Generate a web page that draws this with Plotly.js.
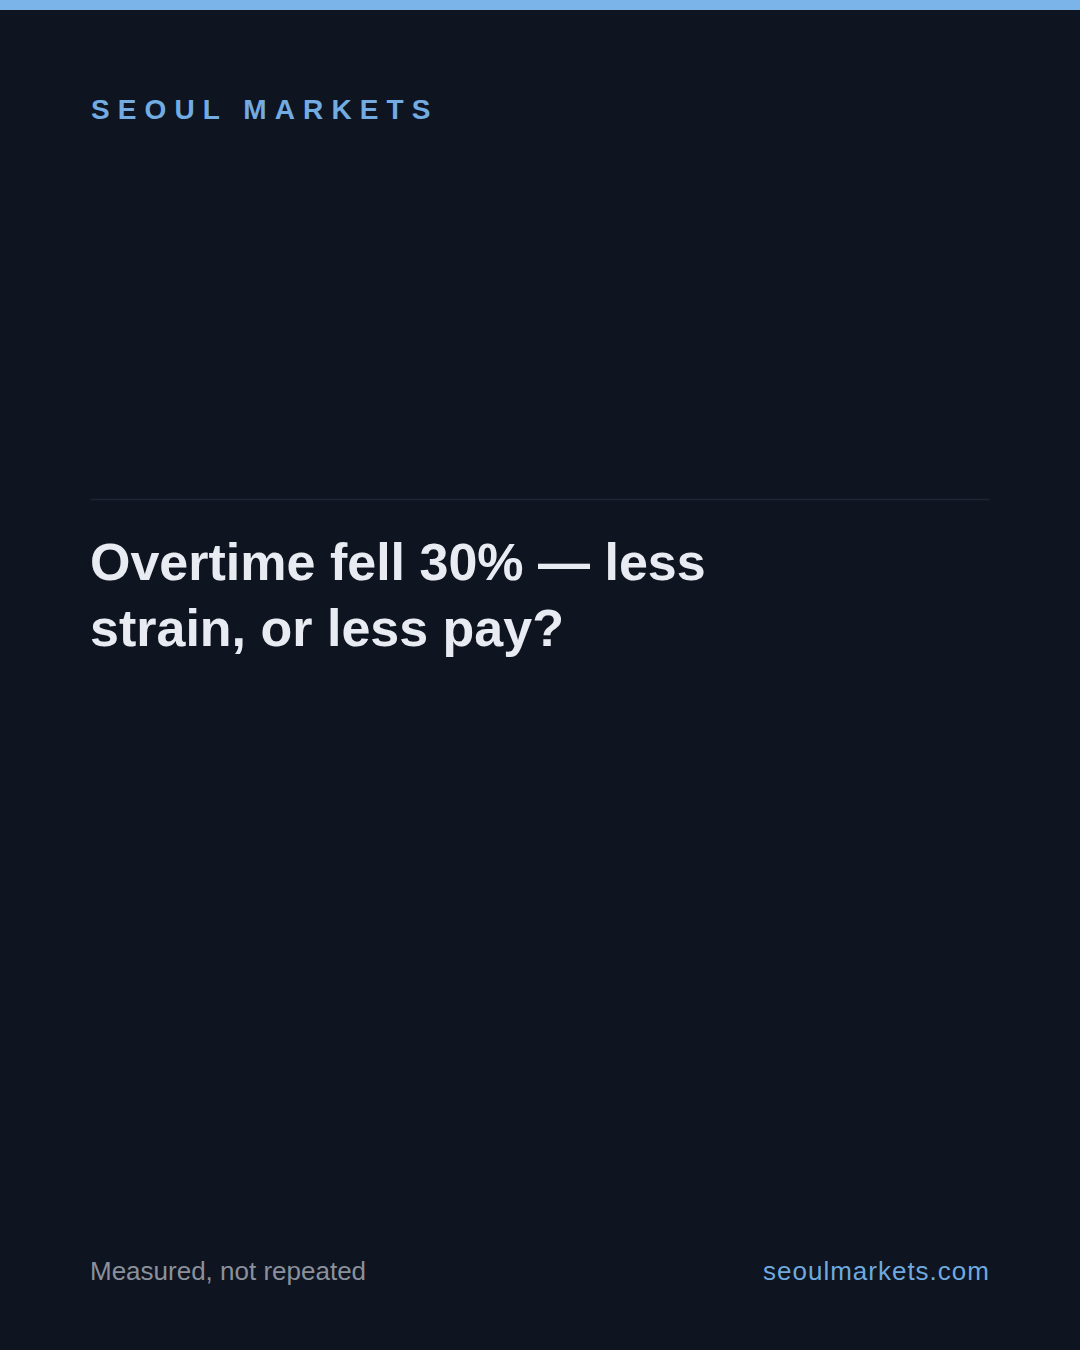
<!DOCTYPE html>
<html>
<head>
<meta charset="utf-8">
<script src="https://cdn.plot.ly/plotly-3.0.1.min.js"></script>
<style>
  html, body { margin: 0; padding: 0; background: #0e1420; }
  #chart { width: 1080px; height: 1350px; }
  .annotation[data-index="0"] .annotation-text { letter-spacing: 8.1px; }
  .annotation[data-index="4"] .annotation-text { letter-spacing: 1px; }
</style>
</head>
<body>
<div id="chart"></div>
<script>
// Text content of the card
const brandName = "SEOUL MARKETS";
const headlineLines = ["Overtime fell 30% \u2014 less", "strain, or less pay?"];
const footerLeft = "Measured, not repeated";
const footerRight = "seoulmarkets.com";

const W = 1080, H = 1350;
const py = (px) => 1 - px / H;
const px = (x) => x / W;

const FONT = "Liberation Sans, Arial, Helvetica, sans-serif";

const annotations = [
  {
    text: "<b>" + brandName + "</b>",
    x: px(90), y: py(109.5), xanchor: "left", yanchor: "middle", align: "left",
    font: { family: FONT, size: 28, color: "#72acE2" }
  },
  {
    text: "<b>" + headlineLines[0] + "</b>",
    x: px(89), y: py(562), xanchor: "left", yanchor: "middle", align: "left",
    font: { family: FONT, size: 52, color: "#e8ebf1" }
  },
  {
    text: "<b>" + headlineLines[1] + "</b>",
    x: px(89), y: py(628), xanchor: "left", yanchor: "middle", align: "left",
    font: { family: FONT, size: 52, color: "#e8ebf1" }
  },
  {
    text: footerLeft,
    x: px(89), y: py(1271), xanchor: "left", yanchor: "middle", align: "left",
    font: { family: FONT, size: 26, color: "#8a919c" }
  },
  {
    text: footerRight,
    x: px(991), y: py(1271), xanchor: "right", yanchor: "middle", align: "right",
    font: { family: FONT, size: 26, color: "#6fa9df" }
  }
];

annotations.forEach(a => { a.xref = "paper"; a.yref = "paper"; a.showarrow = false; a.borderpad = 0; });

const shapes = [
  { type: "rect", xref: "paper", yref: "paper", x0: 0, x1: 1, y0: py(10), y1: 1,
    fillcolor: "#7ab4e8", line: { width: 0 }, layer: "above" },
  { type: "line", xref: "paper", yref: "paper", x0: px(90), x1: px(990), y0: py(499.5), y1: py(499.5),
    line: { color: "#1f2633", width: 1.5 } }
];

const layout = {
  width: W, height: H,
  margin: { l: 0, r: 0, t: 0, b: 0 },
  paper_bgcolor: "#0e1420",
  plot_bgcolor: "#0e1420",
  xaxis: { visible: false, range: [0, 1], fixedrange: true },
  yaxis: { visible: false, range: [0, 1], fixedrange: true },
  showlegend: false,
  annotations: annotations,
  shapes: shapes
};

Plotly.newPlot("chart", [], layout, { displayModeBar: false, staticPlot: true });
</script>
</body>
</html>
